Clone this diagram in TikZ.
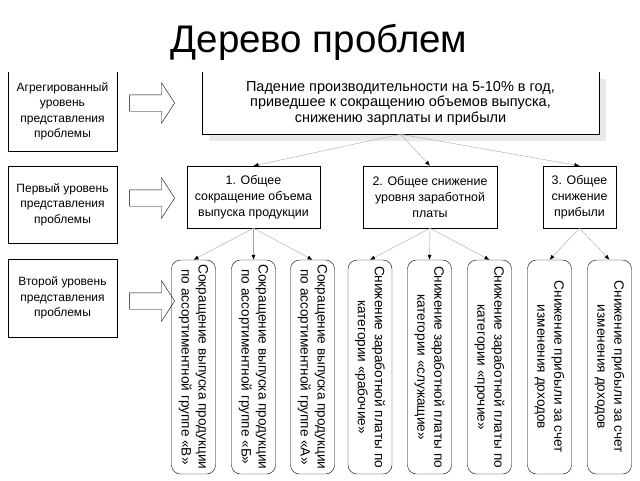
\documentclass[tikz,border=0pt]{standalone}
\usepackage{fontspec}
\setmainfont{Liberation Sans}
\usetikzlibrary{arrows.meta,shapes.arrows,shadows}
\begin{document}
\begin{tikzpicture}[x=1pt,y=-1pt,
  txt/.style={font=\fontsize{12}{15.5}\selectfont, align=center, inner sep=0pt},
  lvl/.style={txt, minimum width=109pt},
  mid/.style={txt, font=\fontsize{12.4}{15.8}\selectfont, draw, minimum height=62pt},
  leaf/.style={txt, font=\fontsize{13.6}{17}\selectfont, draw, rounded corners=9pt, rotate=-90, minimum width=214pt, minimum height=44pt},
  bigarrow/.style={single arrow, draw, minimum height=45pt, single arrow head extend=12pt, single arrow tip angle=114, inner sep=8pt},
  link/.style={draw=gray!70, -{Latex[color=black,length=5pt,width=4pt]}}]
\useasboundingbox (0,0) rectangle (640,480);
\node[anchor=base, font=\fontsize{38.5}{42}\selectfont] (title) at (319,52) {Дерево проблем};
% levels on the left
\node[lvl, minimum height=79pt] (agg) at (62.5,111.5) {Агрегированный\\уровень\\представления\\проблемы};
\draw (agg.north west) |- (agg.south east) -- (agg.north east);
\node[lvl, draw, minimum height=77pt] (first) at (62.5,204.5) {Первый уровень\\представления\\проблемы};
\node[lvl, draw, minimum height=78pt] (second) at (62.5,298) {Второй уровень\\представления\\проблемы};
\node[bigarrow] (arr1) at (149.5,103) {};
\node[bigarrow] (arr2) at (149.5,198) {};
\node[bigarrow] (arr3) at (149.5,301) {};
% the problem
\node[txt, font=\fontsize{14.5}{15.5}\selectfont, fill=white, minimum width=397pt, minimum height=62pt,
  drop shadow={shadow xshift=7pt, shadow yshift=-7pt, fill=gray!25, opacity=.7}] (root) at (400.5,103)
  {Падение производительности на 5-10\% в год,\\приведшее к сокращению объемов выпуска,\\снижению зарплаты и прибыли};
\draw (root.north west) |- (root.south east) -- (root.north east);
% first level
\node[mid, minimum width=133pt] (m1) at (253.5,197) {1. Общее\\сокращение объема\\выпуска продукции};
\node[mid, minimum width=134pt] (m2) at (430,197) {2. Общее снижение\\уровня заработной\\платы};
\node[mid, minimum width=73pt] (m3) at (579.5,197) {3. Общее\\снижение\\прибыли};
\draw[link] (root.south) -- (m1.north);
\draw[link] (root.south) -- (m2.north);
\draw[link] (root.south) -- (m3.north);
% second level
\node[leaf] (l1) at (193.5,367) {Сокращение выпуска продукции\\по ассортиментной группе «В»};
\node[leaf] (l2) at (253.5,367) {Сокращение выпуска продукции\\по ассортиментной группе «Б»};
\node[leaf] (l3) at (312.5,367) {Сокращение выпуска продукции\\по ассортиментной группе «А»};
\node[leaf] (l4) at (370,367) {Снижение заработной платы по\\категории «рабочие»};
\node[leaf] (l5) at (429.5,367) {Снижение заработной платы по\\категории «служащие»};
\node[leaf] (l6) at (489.5,367) {Снижение заработной платы по\\категории «прочие»};
\node[leaf] (l7) at (549.5,367) {Снижение прибыли за счет\\изменения доходов};
\node[leaf] (l8) at (609.5,367) {Снижение прибыли за счет\\изменения доходов};
\draw[link] (m1.south) -- (l1.west);
\draw[link] (m1.south) -- (l2.west);
\draw[link] (m1.south) -- (l3.west);
\draw[link] (m2.south) -- (l4.west);
\draw[link] (m2.south) -- (l5.west);
\draw[link] (m2.south) -- (l6.west);
\draw[link] (m3.south) -- (l7.west);
\draw[link] (m3.south) -- (l8.west);
\end{tikzpicture}
\end{document}
